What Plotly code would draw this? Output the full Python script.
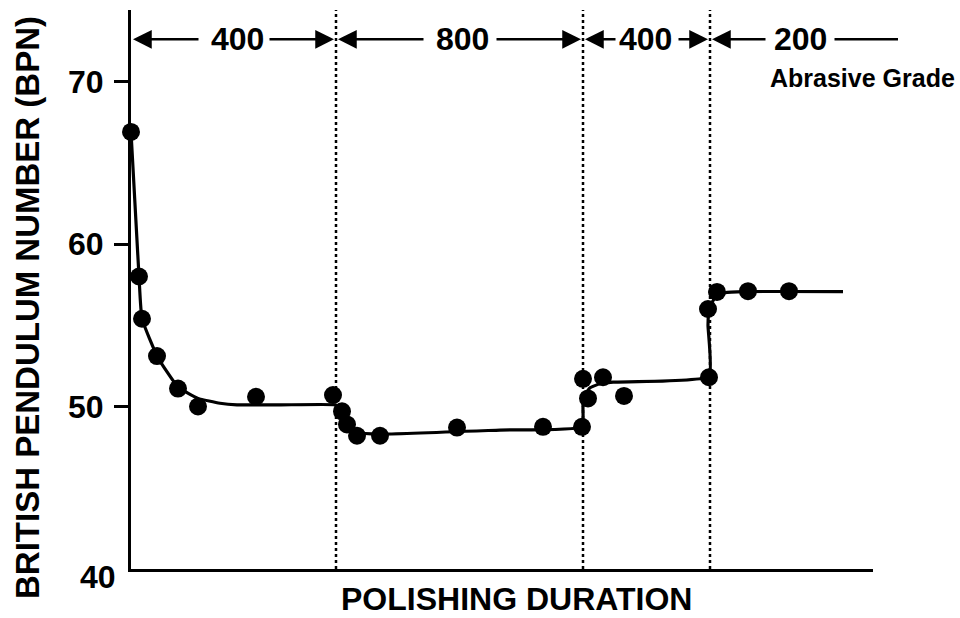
import plotly.graph_objects as go

# ---- data (x = relative polishing duration, arbitrary units; y = BPN) ----
point_x = [0, 8, 11, 26, 47, 67, 125, 202, 211, 216, 226, 249, 326, 412, 451,
           457, 452, 472, 493, 578, 577, 586, 617, 658]
point_bpn = [66.9, 58.0, 55.4, 53.1, 51.1, 50.0, 50.6, 50.7, 49.7, 48.9, 48.2, 48.2,
             48.7, 48.75, 48.75, 50.5, 51.7, 51.8, 50.65, 51.8, 56.0, 57.05, 57.1, 57.1]

curve_x = [0, 8, 11, 27, 47, 67, 89, 106, 150, 204,
           206, 209, 216, 227, 249, 369, 451,
           452, 454, 459, 469, 482, 578,
           577, 578, 584, 594, 614, 712]
curve_bpn = [66.9, 58.0, 55.4, 53.0, 51.2, 50.5, 50.2, 50.1, 50.1, 50.1,
             50.0, 49.6, 48.9, 48.4, 48.3, 48.55, 48.75,
             50.0, 50.7, 51.15, 51.4, 51.5, 51.85,
             55.0, 56.0, 56.7, 57.0, 57.07, 57.07]

grade_bounds = [0, 205, 452, 579]          # stage boundaries
grade_labels = ["400", "800", "400", "200"]
label_x = [106, 331, 514, 669]
arrow_pairs = [  # (left head, left tail, right tail, right head)
    (2, 69, 137, 203),
    (207, 294, 364, 450),
    (454, 486, 546, 577),
    (581, 636, 702, 767),
]
y_ticks = [50, 60, 70]

FONT = "Liberation Sans, Arial, sans-serif"
Y_ARROW = 72.6
Y_TOP = 74.4

fig = go.Figure()
fig.add_trace(go.Scatter(x=curve_x, y=curve_bpn, mode="lines",
                         line=dict(color="black", width=3.2, shape="spline", smoothing=0.4),
                         hoverinfo="skip", showlegend=False))
fig.add_trace(go.Scatter(x=point_x, y=point_bpn, mode="markers",
                         marker=dict(color="black", size=18), showlegend=False,
                         cliponaxis=False))

shapes = []
for b in grade_bounds[1:]:
    shapes.append(dict(type="line", xref="x", yref="y", x0=b, x1=b, y0=40, y1=Y_TOP,
                       line=dict(color="black", width=2.5, dash="dot"), layer="below"))

annotations = []
for i, (lh, lt, rt, rh) in enumerate(arrow_pairs):
    annotations.append(dict(x=lh, y=Y_ARROW, ax=lt, ay=Y_ARROW, xref="x", yref="y",
                            axref="x", ayref="y", text="", showarrow=True,
                            arrowhead=2, arrowsize=1.5, arrowwidth=2.5, arrowcolor="black"))
    annotations.append(dict(x=rh, y=Y_ARROW, ax=rt, ay=Y_ARROW, xref="x", yref="y",
                            axref="x", ayref="y", text="", showarrow=True,
                            arrowhead=(0 if i == 3 else 2), arrowsize=1.5, arrowwidth=2.5,
                            arrowcolor="black"))
    annotations.append(dict(x=label_x[i], y=Y_ARROW, xref="x", yref="y", text=grade_labels[i],
                            showarrow=False, font=dict(family=FONT, size=32, color="black", weight="bold"),
                            xanchor="center", yanchor="middle"))

annotations.append(dict(x=0.9865, y=0.878, xref="paper", yref="paper", text="Abrasive Grade",
                        showarrow=False, font=dict(family=FONT, size=25, color="black", weight="bold"),
                        xanchor="center", yanchor="middle"))
annotations.append(dict(x=-0.0175, y=-0.0143, xref="paper", yref="paper", text="40",
                        showarrow=False, font=dict(family=FONT, size=32, color="black", weight="bold"),
                        xanchor="right", yanchor="middle"))
annotations.append(dict(x=0.519, y=-0.053, xref="paper", yref="paper", text="POLISHING DURATION",
                        showarrow=False, font=dict(family=FONT, size=32, color="black", weight="bold"),
                        xanchor="center", yanchor="middle"))
annotations.append(dict(x=-0.1388, y=0.467, xref="paper", yref="paper",
                        text="BRITISH PENDULUM NUMBER (BPN)", textangle=-90,
                        showarrow=False, font=dict(family=FONT, size=33, color="black", weight="bold"),
                        xanchor="center", yanchor="middle"))

fig.update_layout(
    width=960, height=618,
    margin=dict(l=131, r=87, t=10, b=49),
    paper_bgcolor="white", plot_bgcolor="white",
    shapes=shapes, annotations=annotations,
    xaxis=dict(range=[0, 742], showline=True, linecolor="black", linewidth=3,
               showgrid=False, zeroline=False, showticklabels=False, ticks=""),
    yaxis=dict(range=[40, Y_TOP], showline=True, linecolor="black", linewidth=3,
               showgrid=False, zeroline=False, tickvals=y_ticks, ticks="outside",
               ticklen=14, tickwidth=3, tickcolor="black", ticklabelstandoff=4,
               tickfont=dict(family=FONT, size=32, color="black", weight="bold")),
)

fig.write_html("out.html", config={"displayModeBar": False})

# remove the browser's default page margin so the figure sits at the window origin
with open("out.html", encoding="utf-8") as f:
    html = f.read()
html = html.replace("<body>", '<body style="margin:0;padding:0;overflow:hidden">', 1)
with open("out.html", "w", encoding="utf-8") as f:
    f.write(html)
